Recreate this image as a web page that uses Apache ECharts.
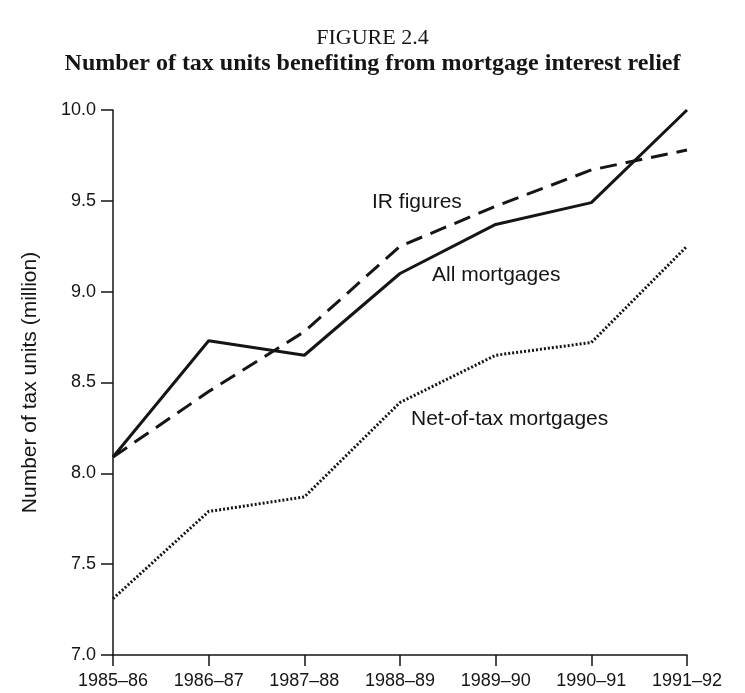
<!DOCTYPE html>
<html>
<head>
<meta charset="utf-8">
<script src="https://cdn.jsdelivr.net/npm/echarts@6/dist/echarts.min.js"></script>
<style>
  html, body { margin: 0; padding: 0; background: #fff; }
  #chart { width: 745px; height: 693px; }
</style>
</head>
<body>
<div id="chart"></div>
<script>
// years on the x axis
var years = ['1985–86', '1986–87', '1987–88', '1988–89', '1989–90', '1990–91', '1991–92']
// million tax units
var allMortgages = [8.09, 8.73, 8.65, 9.10, 9.37, 9.49, 10.0]
var irFigures = [8.09, 8.45, 8.78, 9.25, 9.47, 9.67, 9.78]
var netOfTax = [7.31, 7.79, 7.87, 8.39, 8.65, 8.72, 9.25]
var yTicks = [7.0, 7.5, 8.0, 8.5, 9.0, 9.5, 10.0]

var ink = '#151515'
var chart = echarts.init(document.getElementById('chart'))

var options = {
  animation: false,
  backgroundColor: '#fff',
  title: [{
    text: 'FIGURE 2.4',
    left: 'center',
    top: 22,
    textStyle: {fontFamily: 'Liberation Serif', fontWeight: 'normal', fontSize: 22, color: ink}
  }, {
    text: 'Number of tax units benefiting from mortgage interest relief',
    left: 'center',
    top: 47,
    textStyle: {fontFamily: 'Liberation Serif', fontWeight: 'bold', fontSize: 24, color: ink}
  }],
  grid: {left: 113, right: 58, top: 110, bottom: 38},
  xAxis: {
    type: 'category',
    data: years,
    boundaryGap: false,
    axisLine: {lineStyle: {color: ink, width: 1.5}},
    axisTick: {show: true, length: 11, lineStyle: {color: ink, width: 1.5}},
    axisLabel: {
      margin: 17,
      interval: 0,
      fontFamily: 'Liberation Sans',
      fontSize: 18,
      color: ink
    },
    splitLine: {show: false}
  },
  yAxis: {
    type: 'value',
    min: yTicks[0],
    max: yTicks[yTicks.length - 1],
    interval: 0.5,
    name: 'Number of tax units (million)',
    nameLocation: 'middle',
    nameGap: 72,
    nameTextStyle: {fontFamily: 'Liberation Sans', fontSize: 21, color: ink},
    axisLine: {show: true, lineStyle: {color: ink, width: 1.5}},
    axisTick: {show: true, length: 12, lineStyle: {color: ink, width: 1.5}},
    axisLabel: {
      margin: 17,
      fontFamily: 'Liberation Sans',
      fontSize: 18,
      color: ink,
      formatter: function (v) { return v.toFixed(1) }
    },
    splitLine: {show: false}
  },
  series: [{
    name: 'All mortgages',
    type: 'line',
    data: allMortgages,
    symbol: 'none',
    lineStyle: {color: ink, width: 3, type: 'solid'}
  }, {
    name: 'IR figures',
    type: 'line',
    data: irFigures,
    symbol: 'none',
    lineStyle: {color: ink, width: 3, type: [17, 9]}
  }, {
    name: 'Net-of-tax mortgages',
    type: 'line',
    data: netOfTax,
    symbol: 'none',
    lineStyle: {color: ink, width: 3, type: [2, 2]}
  }],
  // series labels placed beside the lines
  graphic: [{
    type: 'text', left: 372, top: 192,
    style: {text: 'IR figures', fontFamily: 'Liberation Sans', fontSize: 21, fill: ink}
  }, {
    type: 'text', left: 432, top: 265,
    style: {text: 'All mortgages', fontFamily: 'Liberation Sans', fontSize: 21, fill: ink}
  }, {
    type: 'text', left: 411, top: 409,
    style: {text: 'Net-of-tax mortgages', fontFamily: 'Liberation Sans', fontSize: 21, fill: ink}
  }]
}

chart.setOption(options, true)
</script>
</body>
</html>
